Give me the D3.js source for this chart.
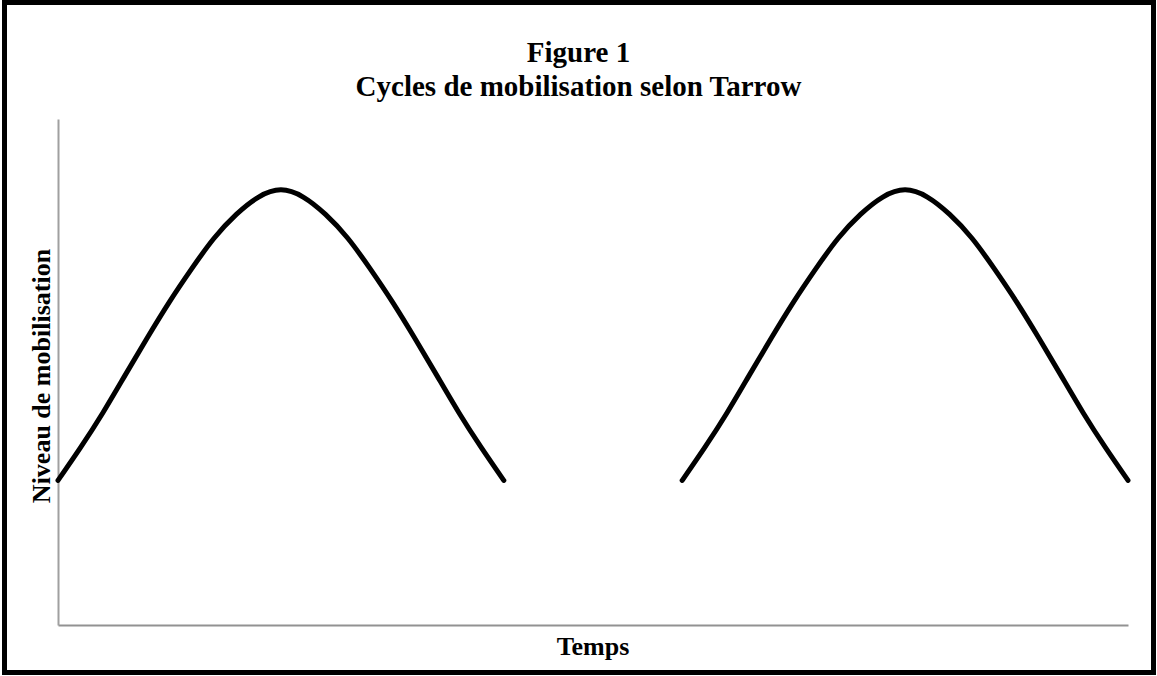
<!DOCTYPE html>
<html>
<head>
<meta charset="utf-8">
<script src="https://cdn.jsdelivr.net/npm/d3@7"></script>
<style>
  html, body { margin: 0; padding: 0; background: #fff; }
  svg { display: block; }
</style>
</head>
<body>
<svg id="chart" width="1157" height="676"></svg>
<script>
// ---- Data ----
const titleLines = ["Figure 1", "Cycles de mobilisation selon Tarrow"];
const xLabel = "Temps";
const yLabel = "Niveau de mobilisation";
const xDomain = [0, 24];
const yDomain = [0, 7];
// cycle 1
const cycle1X = [0, 0.5, 1, 1.5, 2, 2.5, 3, 3.5, 4, 4.5, 5, 5.5, 6, 6.5, 7, 7.5, 8, 8.5, 9, 9.5, 10];
const cycle1Y = [2.0, 2.45, 2.93, 3.45, 3.97, 4.47, 4.93, 5.35, 5.68, 5.92, 6.02, 5.92, 5.68, 5.35, 4.93, 4.47, 3.97, 3.45, 2.93, 2.45, 2.0];
// cycle 2
const cycle2X = [14, 14.5, 15, 15.5, 16, 16.5, 17, 17.5, 18, 18.5, 19, 19.5, 20, 20.5, 21, 21.5, 22, 22.5, 23, 23.5, 24];
const cycle2Y = [2.0, 2.45, 2.93, 3.45, 3.97, 4.47, 4.93, 5.35, 5.68, 5.92, 6.02, 5.92, 5.68, 5.35, 4.93, 4.47, 3.97, 3.45, 2.93, 2.45, 2.0];

// ---- Layout ----
const W = 1157, H = 676;
const plot = { left: 58, right: 1128, top: 119, bottom: 625 };
const svg = d3.select("#chart");

// border
svg.append("rect")
  .attr("x", 4.5).attr("y", 2.5)
  .attr("width", 1149).attr("height", 670)
  .attr("fill", "#fff").attr("stroke", "#000").attr("stroke-width", 5);

const x = d3.scaleLinear().domain(xDomain).range([plot.left, plot.right]);
const y = d3.scaleLinear().domain(yDomain).range([plot.bottom, plot.top]);

// axes (lines only)
const xAxis = d3.axisBottom(x).tickValues([]).tickSizeOuter(0);
const yAxis = d3.axisLeft(y).tickValues([]).tickSizeOuter(0);
svg.append("g").attr("transform", `translate(0,${plot.bottom})`).call(xAxis)
  .select(".domain").attr("stroke", "#929292").attr("stroke-width", 2);
svg.append("g").attr("transform", `translate(${plot.left},0)`).call(yAxis)
  .select(".domain").attr("stroke", "#a0a0a0").attr("stroke-width", 2);

// title
const font = "'Liberation Serif', 'Times New Roman', serif";
svg.append("text")
  .attr("x", W / 2).attr("y", 0)
  .attr("text-anchor", "middle")
  .attr("font-family", font).attr("font-weight", "bold").attr("font-size", 29)
  .selectAll("tspan").data(titleLines).join("tspan")
  .attr("x", W / 2)
  .attr("y", (d, i) => 62 + i * 34)
  .text(d => d);

// axis titles
svg.append("text")
  .attr("x", (plot.left + plot.right) / 2).attr("y", 655)
  .attr("text-anchor", "middle")
  .attr("font-family", font).attr("font-weight", "bold").attr("font-size", 26)
  .text(xLabel);
svg.append("text")
  .attr("transform", `translate(50,${(plot.top + plot.bottom) / 2 + 4}) rotate(-90)`)
  .attr("text-anchor", "middle")
  .attr("font-family", font).attr("font-weight", "bold").attr("font-size", 26)
  .text(yLabel);

// curves
const line = d3.line()
  .x(d => x(d[0])).y(d => y(d[1]))
  .curve(d3.curveNatural);
[[cycle1X, cycle1Y], [cycle2X, cycle2Y]].forEach(([xs, ys]) => {
  svg.append("path")
    .datum(d3.zip(xs, ys))
    .attr("d", line)
    .attr("fill", "none")
    .attr("stroke", "#000")
    .attr("stroke-width", 5)
    .attr("stroke-linecap", "round")
    .attr("stroke-linejoin", "round");
});
</script>
</body>
</html>
